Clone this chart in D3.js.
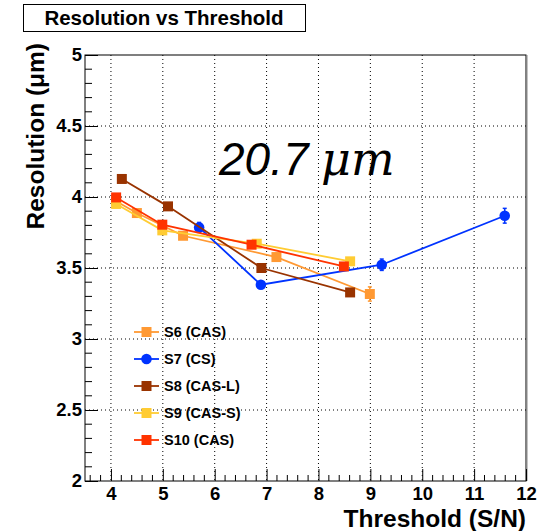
<!DOCTYPE html>
<html>
<head>
<meta charset="utf-8">
<script src="https://cdn.jsdelivr.net/npm/d3@7"></script>
<style>
  body { margin: 0; background: #fff; }
  svg { display: block; font-family: "Liberation Sans", Arial, sans-serif; }
</style>
</head>
<body>
<div id="chart"></div>
<script>
// Series values
const seriesNames = ['S6 (CAS)', 'S7 (CS)', 'S8 (CAS-L)', 'S9 (CAS-S)', 'S10 (CAS)'];
const seriesColors = ['#ff9933', '#0033ff', '#993300', '#ffcc33', '#ff3300'];
const seriesShapes = ['square', 'circle', 'square', 'square', 'square'];

const s6x = [4.1, 4.5, 5.39, 7.19, 8.99];
const s6y = [3.97, 3.887, 3.727, 3.577, 3.317];
const s6e = [0.02, 0.02, 0.02, 0.025, 0.05];

const s7x = [5.7, 6.89, 9.22, 11.59];
const s7y = [3.786, 3.382, 3.523, 3.868];
const s7e = [0.035, 0.025, 0.04, 0.052];

const s8x = [4.21, 5.1, 6.9, 8.61];
const s8y = [4.127, 3.934, 3.5, 3.328];
const s8e = [0.02, 0.02, 0.02, 0.02];

const s9x = [4.1, 4.99, 6.81, 8.61];
const s9y = [3.951, 3.765, 3.671, 3.547];
const s9e = [0.02, 0.02, 0.02, 0.02];

const s10x = [4.1, 4.99, 6.71, 8.49];
const s10y = [3.997, 3.805, 3.664, 3.511];
const s10e = [0.02, 0.02, 0.02, 0.02];

const xTicks = [4, 5, 6, 7, 8, 9, 10, 11, 12];
const yTicks = [2, 2.5, 3, 3.5, 4, 4.5, 5];

const series = [
    { x: s6x, y: s6y, e: s6e },
    { x: s7x, y: s7y, e: s7e },
    { x: s8x, y: s8y, e: s8e },
    { x: s9x, y: s9y, e: s9e },
    { x: s10x, y: s10y, e: s10e }
].map((s, i) => ({
    name: seriesNames[i],
    color: seriesColors[i],
    shape: seriesShapes[i],
    points: s.x.map((v, j) => ({ x: v, y: s.y[j], e: s.e[j] }))
}));

const width = 548;
const height = 531;
const frame = { left: 85, right: 526, top: 55, bottom: 481 };
const font = '"Liberation Sans", Arial, sans-serif';

const svg = d3.select('#chart').append('svg')
    .attr('width', width)
    .attr('height', height);

const x = d3.scaleLinear().domain([3.5, 12]).range([frame.left, frame.right]);
const y = d3.scaleLinear().domain([2, 5]).range([frame.bottom, frame.top]);

// dotted grid at major ticks
svg.append('g').selectAll('line')
    .data(xTicks.filter(t => t > 3.5 && t < 12))
    .enter().append('line')
    .attr('x1', d => x(d)).attr('x2', d => x(d))
    .attr('y1', frame.top).attr('y2', frame.bottom)
    .attr('stroke', '#000').attr('stroke-width', 1)
    .attr('stroke-dasharray', '1,3');
svg.append('g').selectAll('line')
    .data(yTicks.filter(t => t > 2 && t < 5))
    .enter().append('line')
    .attr('x1', frame.left).attr('x2', frame.right)
    .attr('y1', d => y(d)).attr('y2', d => y(d))
    .attr('stroke', '#000').attr('stroke-width', 1)
    .attr('stroke-dasharray', '1,3');

// frame (right edge a bit heavier, like the pad border)
svg.append('rect')
    .attr('x', frame.left).attr('y', frame.top)
    .attr('width', frame.right - frame.left)
    .attr('height', frame.bottom - frame.top)
    .attr('fill', 'none').attr('stroke', '#000').attr('stroke-width', 1);
svg.append('line')
    .attr('x1', frame.right + 1).attr('x2', frame.right + 1)
    .attr('y1', frame.top).attr('y2', frame.bottom)
    .attr('stroke', '#888').attr('stroke-width', 1);

// x axis ticks (inside, pointing up)
const xMinor = d3.range(3.6, 12.001, 0.2).filter(t => Math.abs(t - Math.round(t)) > 0.01);
const xAxis = svg.append('g').attr('transform', `translate(0,${frame.bottom})`)
    .call(d3.axisBottom(x).tickValues(xTicks).tickSize(-12).tickFormat(d3.format('d')));
xAxis.select('.domain').remove();
xAxis.selectAll('text')
    .attr('y', 6)
    .style('font-size', '18.5px').style('font-weight', 'bold')
    .style('font-family', font).attr('fill', '#000');
svg.append('g').selectAll('line').data(xMinor).enter().append('line')
    .attr('x1', d => x(d)).attr('x2', d => x(d))
    .attr('y1', frame.bottom).attr('y2', frame.bottom - 6)
    .attr('stroke', '#000');

// y axis ticks (inside, pointing right)
const yMinor = d3.range(2.1, 5.0, 0.1).filter(t => Math.abs(t * 2 - Math.round(t * 2)) > 0.01);
const yAxis = svg.append('g').attr('transform', `translate(${frame.left},0)`)
    .call(d3.axisLeft(y).tickValues(yTicks).tickSize(-13).tickFormat(d => d3.format('')(d)));
yAxis.select('.domain').remove();
yAxis.selectAll('text')
    .attr('x', -3)
    .style('font-size', '18.5px').style('font-weight', 'bold')
    .style('font-family', font).attr('fill', '#000');
svg.append('g').selectAll('line').data(yMinor).enter().append('line')
    .attr('x1', frame.left).attr('x2', frame.left + 7)
    .attr('y1', d => y(d)).attr('y2', d => y(d))
    .attr('stroke', '#000');

// axis titles
svg.append('text')
    .attr('x', frame.right).attr('y', 527)
    .attr('text-anchor', 'end')
    .style('font-size', '24.5px').style('font-weight', 'bold')
    .text('Threshold (S/N)');
svg.append('text')
    .attr('transform', `translate(44,${frame.top - 12}) rotate(-90)`)
    .attr('text-anchor', 'end')
    .style('font-size', '24.5px').style('font-weight', 'bold')
    .text('Resolution (\u03bcm)');

// series lines, error bars and markers
const line = d3.line().x(d => x(d.x)).y(d => y(d.y));
const markSize = 10;
const symbolFor = s => d3.symbol()
    .type(s.shape === 'circle' ? d3.symbolCircle : d3.symbolSquare)
    .size(s.shape === 'circle' ? Math.PI * 28 : markSize * markSize);

series.forEach(s => {
    const g = svg.append('g');
    g.append('path')
        .datum(s.points)
        .attr('d', line)
        .attr('fill', 'none')
        .attr('stroke', s.color)
        .attr('stroke-width', 1.8);
    g.selectAll('line.err').data(s.points).enter().append('line')
        .attr('class', 'err')
        .attr('x1', d => x(d.x)).attr('x2', d => x(d.x))
        .attr('y1', d => y(d.y - d.e)).attr('y2', d => y(d.y + d.e))
        .attr('stroke', s.color).attr('stroke-width', 1.5);
    // small end caps
    [-1, 1].forEach(sign => {
        g.selectAll(null).data(s.points).enter().append('line')
            .attr('x1', d => x(d.x) - 2).attr('x2', d => x(d.x) + 2)
            .attr('y1', d => y(d.y + sign * d.e)).attr('y2', d => y(d.y + sign * d.e))
            .attr('stroke', s.color).attr('stroke-width', 1.5);
    });
    g.selectAll('path.mark').data(s.points).enter().append('path')
        .attr('class', 'mark')
        .attr('transform', d => `translate(${x(d.x)},${y(d.y)})`)
        .attr('d', symbolFor(s))
        .attr('fill', s.color);
});

// legend
const legend = svg.append('g');
const legendRows = legend.selectAll('g').data(series).enter().append('g')
    .attr('transform', (d, i) => `translate(134,${332 + i * 27})`);
legendRows.append('line')
    .attr('x1', 0).attr('x2', 25).attr('y1', 0).attr('y2', 0)
    .attr('stroke', d => d.color).attr('stroke-width', 1.8);
legendRows.append('path')
    .attr('transform', 'translate(12.5,0)')
    .attr('d', d => symbolFor(d)())
    .attr('fill', d => d.color);
legendRows.append('text')
    .attr('x', 30).attr('y', 5)
    .style('font-size', '14.5px').style('font-weight', 'bold')
    .text(d => d.name);

// resolution label
svg.append('text')
    .attr('x', 219).attr('y', 175)
    .style('font-size', '46px')
    .style('font-style', 'italic')
    .style('font-family', font)
    .text('20.7');
svg.append('text')
    .attr('x', 321).attr('y', 175)
    .style('font-size', '46px')
    .style('font-style', 'italic')
    .style('font-family', '"DejaVu Serif", "Liberation Serif", serif')
    .text('\u03bcm');

// title box
svg.append('rect')
    .attr('x', 23.5).attr('y', 4.5).attr('width', 282).attr('height', 27)
    .attr('fill', '#fff').attr('stroke', '#000').attr('stroke-width', 1);
svg.append('text')
    .attr('x', 164).attr('y', 25)
    .attr('text-anchor', 'middle')
    .style('font-size', '20.5px').style('font-weight', 'bold')
    .text('Resolution vs Threshold');
</script>
</body>
</html>
